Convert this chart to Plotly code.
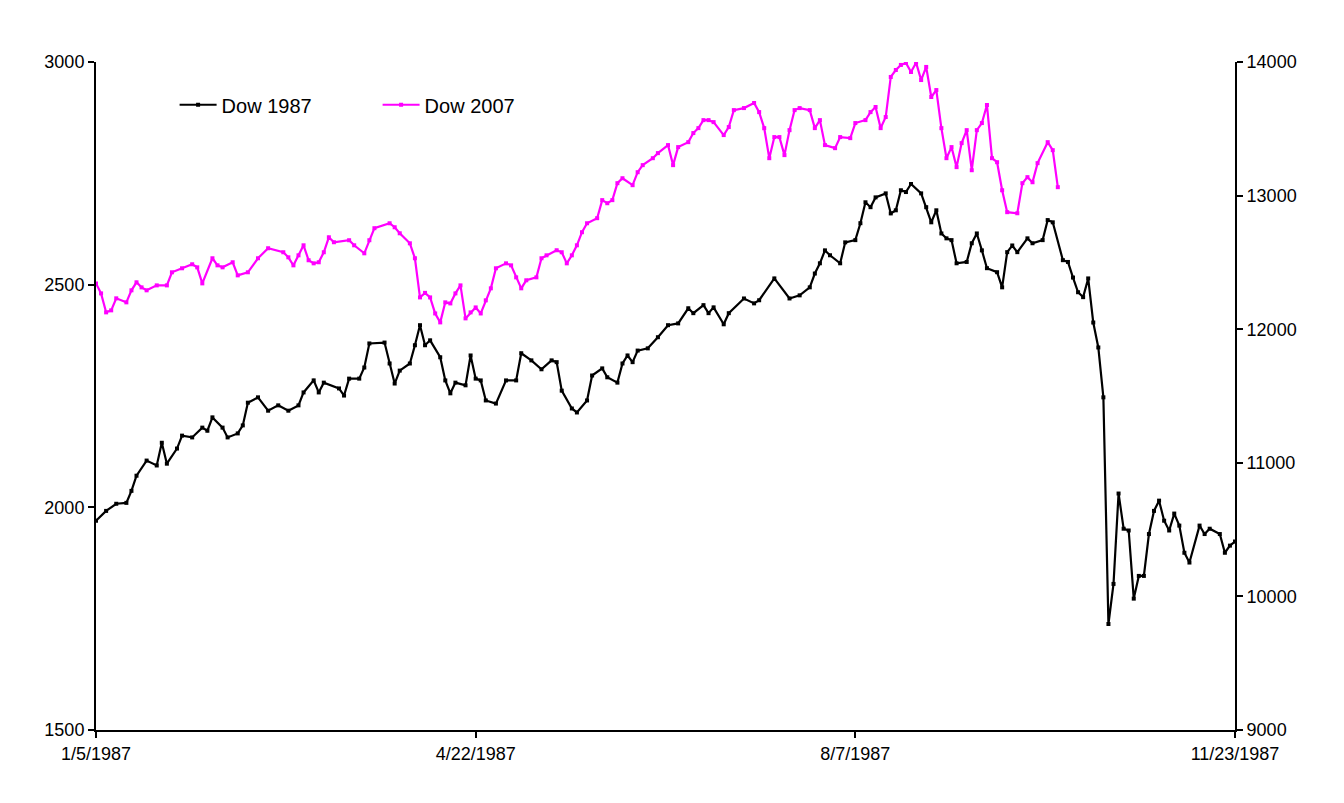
import pandas as pd
import plotly.graph_objects as go

# Trading-day categories (NYSE 1987, holidays removed)
holidays_1987 = ["1987-02-16", "1987-04-17", "1987-05-25", "1987-07-03", "1987-09-07"]
days = [d for d in pd.bdate_range("1987-01-05", "1987-11-23") if d.strftime("%Y-%m-%d") not in holidays_1987]
categories = [f"{d.month}/{d.day}/{d.year}" for d in days]
tick_labels = ["1/5/1987", "4/22/1987", "8/7/1987", "11/23/1987"]
left_ticks = [1500, 2000, 2500, 3000]
right_ticks = [9000, 10000, 11000, 12000, 13000, 14000]

# Dow 1987 (left axis): trading-day number and close
dow87_day = [0, 2, 4, 6, 7, 8, 10, 12, 13, 14, 16, 17, 19, 21, 22, 23, 25, 26, 28, 29, 30, 32, 34, 36, 38,
             40, 41, 43, 44, 45, 48, 49, 50, 52, 53, 54, 57, 58, 59, 60, 62, 63, 64, 65, 66, 68, 69, 70, 71,
             73, 74, 75, 76, 77, 79, 81, 83, 84, 86, 88, 90, 91, 92, 94, 95, 97, 98, 100, 101, 103, 104, 105,
             106, 107, 109, 111, 113, 115, 117, 118, 120, 121, 122, 124, 125, 128, 130, 131, 134, 137, 139,
             141, 142, 143, 144, 145, 147, 148, 150, 151, 152, 153, 154, 156, 157, 158, 159, 160, 161, 163,
             164, 165, 166, 167, 168, 169, 170, 172, 173, 174, 175, 176, 178, 179, 180, 181, 182, 184, 185,
             187, 188, 189, 191, 192, 193, 194, 195, 196, 197, 198, 199, 200, 201, 202, 203, 204, 205, 206,
             207, 208, 209, 210, 211, 212, 213, 214, 215, 216, 218, 219, 220, 222, 223, 224, 225]
dow87_val = [1970, 1992, 2008, 2010, 2037, 2071, 2105, 2094, 2145, 2098, 2132, 2161, 2157, 2179, 2172, 2202,
             2179, 2157, 2166, 2184, 2235, 2247, 2217, 2229, 2217, 2229, 2258, 2285, 2258, 2280, 2267, 2251,
             2289, 2289, 2314, 2368, 2370, 2323, 2278, 2307, 2323, 2364, 2409, 2364, 2375, 2337, 2285, 2256,
             2280, 2274, 2341, 2289, 2285, 2240, 2233, 2285, 2285, 2346, 2330, 2310, 2330, 2326, 2262, 2222,
             2213, 2240, 2296, 2312, 2292, 2280, 2323, 2341, 2326, 2352, 2357, 2382, 2409, 2413, 2447, 2436,
             2454, 2436, 2449, 2411, 2436, 2469, 2458, 2465, 2514, 2469, 2476, 2494, 2525, 2548, 2577, 2566,
             2548, 2595, 2600, 2638, 2685, 2674, 2696, 2705, 2660, 2667, 2712, 2708, 2726, 2705, 2674, 2640,
             2667, 2615, 2604, 2600, 2548, 2551, 2593, 2615, 2577, 2537, 2528, 2494, 2573, 2588, 2573, 2604,
             2593, 2600, 2645, 2640, 2555, 2551, 2516, 2483, 2472, 2514, 2415, 2359, 2247, 1738, 1828, 2031,
             1952, 1948, 1795, 1846, 1846, 1940, 1992, 2015, 1970, 1948, 1986, 1959, 1898, 1876, 1959, 1940,
             1952, 1940, 1898, 1914, 1923]

# Dow 2007 (right axis), aligned on the same trading-day positions
dow07_day = [0, 1, 2, 3, 4, 6, 7, 8, 9, 10, 12, 14, 15, 17, 19, 20, 21, 23, 24, 25, 27, 28, 30, 32, 34, 37,
             38, 39, 40, 41, 42, 43, 44, 45, 46, 47, 50, 51, 53, 54, 55, 58, 59, 60, 62, 63, 64, 65, 66, 67,
             68, 69, 70, 71, 72, 73, 74, 75, 76, 77, 78, 79, 81, 82, 83, 84, 85, 87, 88, 89, 91, 92, 93, 94,
             95, 96, 97, 99, 100, 101, 102, 103, 104, 106, 107, 108, 110, 111, 113, 114, 115, 117, 118, 119,
             120, 121, 122, 124, 125, 126, 128, 130, 131, 132, 133, 134, 135, 136, 137, 138, 139, 141, 142,
             143, 144, 146, 147, 149, 150, 152, 153, 154, 155, 156, 157, 158, 159, 160, 161, 162, 163, 164,
             165, 166, 167, 168, 169, 170, 171, 172, 173, 174, 175, 176, 177, 178, 179, 180, 182, 183, 184,
             185, 186, 188, 189, 190]
dow07_val = [12343, 12268, 12126, 12141, 12231, 12201, 12291, 12351, 12313, 12291, 12328, 12328, 12426,
             12456, 12486, 12463, 12343, 12531, 12478, 12463, 12501, 12403, 12426, 12531, 12606, 12576,
             12538, 12478, 12553, 12628, 12516, 12493, 12501, 12576, 12688, 12651, 12666, 12628, 12568,
             12666, 12756, 12793, 12763, 12718, 12643, 12531, 12238, 12272, 12238, 12118, 12051, 12201,
             12193, 12268, 12328, 12081, 12126, 12163, 12118, 12216, 12306, 12456, 12493, 12478, 12388,
             12306, 12366, 12388, 12531, 12553, 12591, 12576, 12493, 12553, 12628, 12726, 12793, 12831,
             12966, 12943, 12966, 13093, 13130, 13078, 13175, 13228, 13280, 13318, 13378, 13228, 13363,
             13400, 13468, 13505, 13565, 13565, 13550, 13453, 13513, 13640, 13655, 13693, 13625, 13505,
             13280, 13438, 13438, 13303, 13490, 13640, 13655, 13640, 13505, 13565, 13378, 13355, 13438,
             13430, 13543, 13565, 13625, 13663, 13505, 13588, 13888, 13940, 13978, 13993, 13925, 13995,
             13865, 13963, 13738, 13790, 13505, 13280, 13363, 13213, 13393, 13490, 13190, 13490, 13543,
             13678, 13280, 13250, 13040, 12876, 12868, 13093, 13138, 13100, 13243, 13400, 13340, 13063]

FONT = "Liberation Sans, Arial, sans-serif"

fig = go.Figure()
fig.add_trace(go.Scatter(
    x=[categories[i] for i in dow87_day], y=dow87_val, name="Dow 1987",
    mode="lines+markers", line=dict(color="black", width=2.2),
    marker=dict(symbol="square", size=4, color="black"),
))
fig.add_trace(go.Scatter(
    x=[categories[i] for i in dow07_day], y=dow07_val, name="Dow 2007", yaxis="y2",
    mode="lines+markers", line=dict(color="#FF00FF", width=2.2),
    marker=dict(symbol="square", size=4, color="#FF00FF"),
))

axis_common = dict(showgrid=False, zeroline=False, showline=True, linecolor="black", linewidth=2,
                   ticks="outside", ticklen=6, tickwidth=2, tickcolor="black",
                   tickfont=dict(family=FONT, size=18, color="black"))

fig.update_layout(
    width=1344, height=803, autosize=False,
    margin=dict(l=88, r=117, t=54, b=81),
    paper_bgcolor="white", plot_bgcolor="white",
    showlegend=True,
    legend=dict(orientation="h", x=0.069, y=0.936, xanchor="left", yanchor="middle",
                font=dict(family=FONT, size=20, color="black"), bgcolor="rgba(0,0,0,0)",
                itemwidth=37, entrywidth=151, entrywidthmode="pixels"),
    xaxis=dict(type="category", categoryorder="array", categoryarray=categories,
               range=[0, len(categories) - 1], tickmode="array", tickvals=tick_labels,
               ticktext=tick_labels, tickangle=0, **axis_common),
    yaxis=dict(range=[1500, 3000], tickmode="array", tickvals=left_ticks,
               ticktext=[str(v) for v in left_ticks], **axis_common),
    yaxis2=dict(range=[9000, 14000], overlaying="y", side="right", tickmode="array",
                tickvals=right_ticks, ticktext=[str(v) for v in right_ticks], **axis_common),
)

fig.write_html("out.html")
